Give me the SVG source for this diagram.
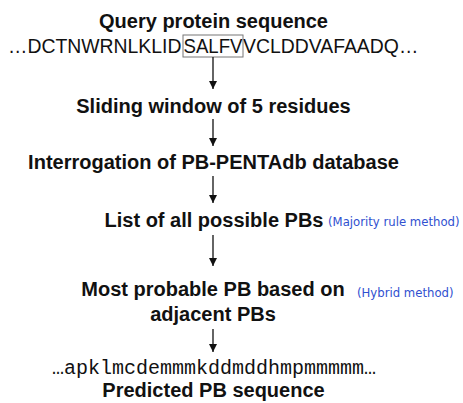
<svg xmlns="http://www.w3.org/2000/svg" width="463" height="403" viewBox="0 0 463 403">
  <style>
    .step { font-family: "Liberation Sans", Arial, sans-serif; font-weight: bold; font-size: 20px; fill: #111; text-anchor: middle; }
    .seq { font-family: "Liberation Sans", Arial, sans-serif; font-size: 19.4px; fill: #111; }
    .pb { font-family: "Liberation Mono", "Courier New", monospace; font-size: 20px; fill: #111; }
    .note { font-family: "DejaVu Sans", Verdana, sans-serif; font-size: 11.7px; fill: #3050d0; }
    .flow { stroke: #111; stroke-width: 1.3; fill: none; marker-end: url(#head); }
  </style>
  <defs>
    <marker id="head" viewBox="0 0 8 10" refX="8" refY="5" markerWidth="8" markerHeight="10" markerUnits="userSpaceOnUse" orient="auto">
      <path d="M0,1 L8,5 L0,9 Z" fill="#111"/>
    </marker>
  </defs>
  <rect width="463" height="403" fill="#ffffff"/>

  <g id="query">
    <text class="step" x="213.5" y="28">Query protein sequence</text>
    <text class="seq" y="53"><tspan x="8">…DCTNWRNLKLID</tspan><tspan x="183.5" textLength="59" lengthAdjust="spacingAndGlyphs">SALFV</tspan><tspan x="243">VCLDDVAFAADQ…</tspan></text>
    <rect x="183" y="35" width="60" height="22" fill="none" stroke="#777" stroke-width="1"/>
  </g>

  <g id="window">
    <text class="step" x="213.5" y="113">Sliding window of 5 residues</text>
  </g>

  <g id="database">
    <text class="step" x="213.5" y="169">Interrogation of PB-PENTAdb database</text>
  </g>

  <g id="possible">
    <text class="step" x="214" y="227">List of all possible PBs</text>
    <text class="note" x="328" y="226">(Majority rule method)</text>
  </g>

  <g id="probable">
    <text class="step" x="213" y="296">Most probable PB based on</text>
    <text class="step" x="213" y="321">adjacent PBs</text>
    <text class="note" x="357" y="297">(Hybrid method)</text>
  </g>

  <g id="predicted">
    <text class="pb" x="52" y="374">…apklmcdemmmkddmddhmpmmmmm…</text>
    <text class="step" x="213.5" y="397">Predicted PB sequence</text>
  </g>

  <g id="connectors">
    <line class="flow" x1="213" y1="57" x2="213" y2="89"/>
    <line class="flow" x1="213" y1="119" x2="213" y2="146"/>
    <line class="flow" x1="213" y1="176" x2="213" y2="203"/>
    <line class="flow" x1="213" y1="235" x2="213" y2="266"/>
    <line class="flow" x1="213" y1="329" x2="213" y2="352"/>
  </g>
</svg>
